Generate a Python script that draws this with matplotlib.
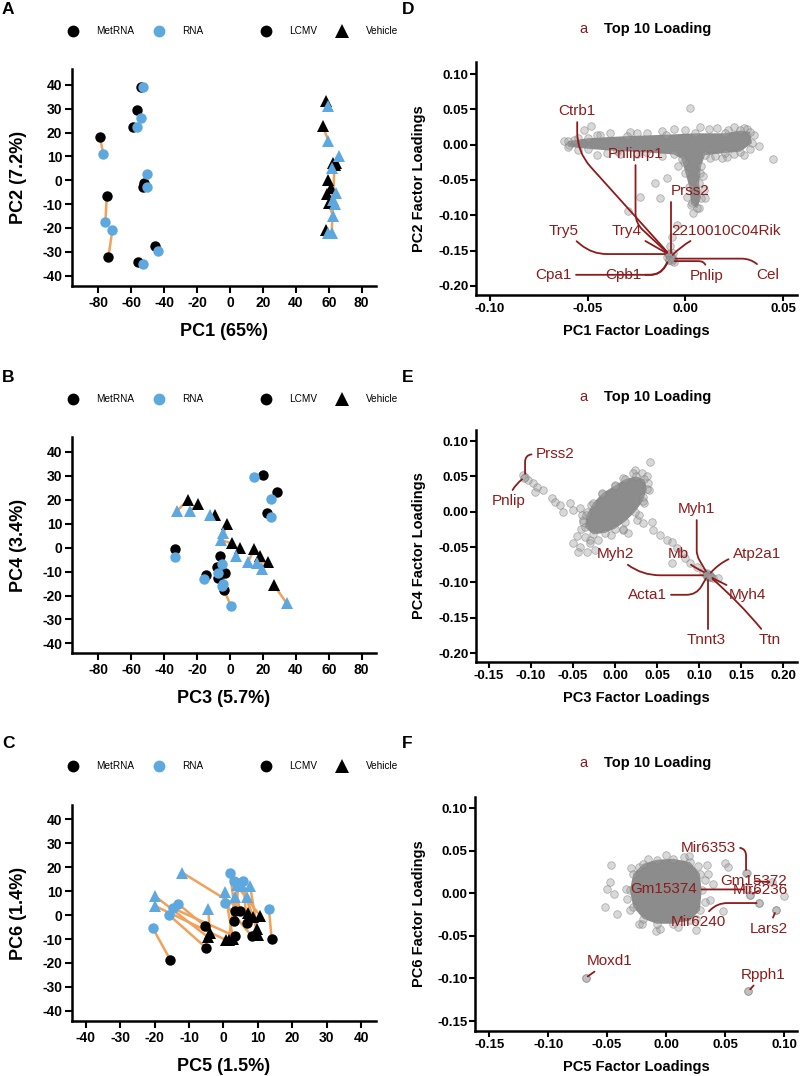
import matplotlib
matplotlib.use('Agg')
import matplotlib.pyplot as plt
from matplotlib.lines import Line2D
import numpy as np

plt.rcParams['font.family'] = ['Liberation Sans', 'DejaVu Sans']
plt.rcParams['axes.unicode_minus'] = False

BLUE = '#5DA8DE'
ORANGE = '#F0A25C'
RED = '#8E1B1B'

## PCA scores: MetRNA (black) paired with RNA (blue), LCMV = circle, Vehicle = triangle
a_lcmv_met = [(-54.3, 39.0), (-56.3, 29.5), (-59.2, 22.2), (-79.0, 18.0), (-52.2, -1.3),
              (-53.0, -2.7), (-74.9, -6.8), (-73.9, -32.3), (-45.6, -27.5), (-55.7, -34.4)]
a_lcmv_rna = [(-52.6, 39.0), (-54.3, 26.0), (-56.3, 22.2), (-77.0, 11.0), (-50.6, 2.7),
              (-50.2, -2.9), (-75.7, -17.5), (-71.5, -20.8), (-43.6, -29.6), (-53.0, -35.2)]
a_veh_met = [(58.3, 33.4), (56.3, 22.8), (64.4, 7.4), (62.8, 7.1), (59.7, 0.1),
             (61.1, -3.4), (59.1, -5.7), (60.1, -9.4), (58.3, -20.8), (63.5, 6.5)]
a_veh_rna = [(59.3, 31.1), (59.7, 16.6), (66.4, 10.2), (61.8, 5.0), (64.4, -5.4),
             (62.8, -8.2), (63.8, -9.9), (62.4, -14.9), (59.7, -22.2), (61.8, -21.9)]

b_lcmv_met = [(19.8, 30.3), (28.4, 23.1), (22.7, 14.6), (-33.4, -0.7), (-6.1, -3.7),
              (-8.1, -7.9), (-3.0, -10.7), (-14.6, -11.4), (-7.1, -12.8), (-3.6, -17.6)]
b_lcmv_rna = [(14.8, 29.6), (24.7, 20.2), (24.7, 12.7), (-33.4, -4.0), (-5.0, -6.8),
              (-7.1, -10.4), (-4.5, -15.0), (-15.8, -13.2), (-5.0, -16.0), (0.4, -24.2)]
b_veh_met = [(-25.7, 19.9), (-19.6, 18.1), (-9.1, 13.6), (-1.6, 9.8), (1.0, 1.8),
             (6.1, -0.3), (14.6, -0.7), (18.2, -3.7), (23.3, -5.8), (26.7, -15.6)]
b_veh_rna = [(-32.0, 15.4), (-24.3, 15.4), (-12.2, 13.6), (-4.0, 6.3), (-5.7, 3.2),
             (3.6, -3.5), (11.1, -5.8), (19.3, -9.0), (16.2, -6.5), (34.4, -23.2)]

c_lcmv_met = [(-15.4, -18.8), (14.0, -10.0), (-5.4, -4.6), (3.3, -8.8), (-5.1, -13.6),
              (3.3, 1.8), (4.8, 1.7), (3.1, -2.5), (6.7, -3.5), (8.2, -8.8)]
c_lcmv_rna = [(-20.6, -5.3), (13.2, 2.4), (-13.1, 4.6), (-14.6, 2.8), (-15.8, 0.0),
              (1.9, 17.7), (3.1, 14.3), (4.5, 13.5), (5.8, 14.3), (0.4, 4.9)]
c_veh_met = [(7.2, 0.7), (-4.4, -9.3), (0.7, -10.4), (-4.0, -7.5), (2.8, -10.1),
             (10.6, -0.3), (9.7, -6.0), (10.1, -8.3), (1.5, -10.5), (8.5, -1.0)]
c_veh_rna = [(-12.0, 17.7), (-19.9, 7.9), (-19.9, 3.8), (-4.4, 2.4), (0.4, 9.7),
             (3.8, 12.5), (5.5, 12.0), (7.7, 12.3), (3.3, 7.6), (6.7, 7.6)]

## Factor loadings: outline of the dense core + individual points
d_core = [(-0.060, 0.005), (-0.050, 0.009), (-0.030, 0.012), (-0.010, 0.014), (0.005, 0.016),
          (0.020, 0.016), (0.028, 0.020), (0.033, 0.018), (0.034, 0.002), (0.028, -0.010),
          (0.020, -0.012), (0.010, -0.015), (0.008, -0.030), (0.007, -0.055), (0.008, -0.075),
          (0.006, -0.090), (0.003, -0.085), (0.002, -0.060), (0.000, -0.040), (-0.002, -0.020),
          (-0.006, -0.014), (-0.020, -0.011), (-0.035, -0.009), (-0.050, -0.006), (-0.060, -0.003)]
d_points = [(-0.0519, 0.0208), (-0.0434, 0.0137), (-0.0383, 0.0170), (-0.0281, 0.0184),
            (-0.0196, 0.0160), (-0.0060, 0.0217), (0.0076, 0.0255), (0.0161, 0.0231),
            (0.0246, 0.0245), (0.0314, 0.0217), (0.0348, 0.0137), (0.0297, -0.0146),
            (0.0212, -0.0170), (0.0127, -0.0193), (-0.0009, -0.0241), (-0.0570, 0.0066),
            (-0.0595, -0.0005), (-0.0451, -0.0146), (-0.0332, -0.0132), (0.0076, -0.0406),
            (0.0093, -0.0642), (0.0034, -0.0830), (0.0068, -0.0901), (0.0008, -0.0736),
            (-0.0094, -0.0477), (-0.0043, -0.1137), (-0.0068, -0.1302), (-0.0080, -0.1443),
            (-0.0063, -0.1538), (-0.0073, -0.1609), (-0.0060, -0.1656), (-0.0094, -0.1585),
            (0.0022, 0.0514), (-0.0485, 0.0264), (-0.0621, 0.0057), (0.0445, -0.0207),
            (0.0374, -0.0019), (-0.0153, -0.0538), (-0.0230, -0.0736), (-0.0128, -0.0759),
            (-0.0294, -0.0934), (0.0187, -0.0193),
            (-0.055, 0.010), (-0.045, 0.013), (-0.025, 0.016), (-0.012, 0.019), (0.000, 0.020),
            (0.012, 0.022), (0.022, 0.021), (0.030, 0.024), (-0.055, -0.008), (-0.040, -0.012),
            (-0.025, -0.014), (-0.012, -0.016), (0.015, -0.016), (0.025, -0.014), (0.033, -0.006),
            (-0.004, -0.030), (0.009, -0.045), (0.010, -0.075), (0.004, -0.097)]
d_genes = ['Ctrb1', 'Pnliprp1', 'Prss2', 'Try5', 'Try4', '2210010C04Rik',
           'Cpa1', 'Cpb1', 'Pnlip', 'Cel']
d_gene_x = [-0.0085, -0.0082, -0.0075, -0.0090, -0.0085, -0.0075, -0.0085, -0.0085, -0.0070, -0.0065]
d_gene_y = [-0.1545, -0.1560, -0.1580, -0.1550, -0.1555, -0.1590, -0.1630, -0.1640, -0.1650, -0.1615]
d_text = [(-0.0553, 0.0476), (-0.0255, -0.0132), (0.0022, -0.0656), (-0.0621, -0.1217),
          (-0.0298, -0.1217), (0.0209, -0.1217), (-0.0673, -0.1844), (-0.0319, -0.1844),
          (0.0106, -0.1858), (0.0421, -0.1844)]
d_conn = ['angle,angleA=90,angleB=132,rad=20', 'angle,angleA=90,angleB=137,rad=10',
          'angle,angleA=0,angleB=90,rad=10', 'angle,angleA=-40,angleB=0,rad=15',
          'arc3,rad=0', 'arc3,rad=0.2', 'angle,angleA=0,angleB=60,rad=10',
          'angle,angleA=0,angleB=60,rad=10', 'angle,angleA=90,angleB=0,rad=8',
          'angle,angleA=135,angleB=0,rad=10']

e_core = [(-0.036, -0.022), (-0.034, -0.005), (-0.026, 0.012), (-0.015, 0.026), (0.000, 0.037),
          (0.012, 0.046), (0.025, 0.050), (0.035, 0.046), (0.038, 0.032), (0.033, 0.015),
          (0.024, 0.000), (0.012, -0.014), (0.000, -0.024), (-0.012, -0.030), (-0.026, -0.032)]
e_points = [(-0.1091, 0.0520), (-0.1032, 0.0449), (-0.0972, 0.0402), (-0.0932, 0.0355),
            (-0.0853, 0.0308), (-0.0754, 0.0190), (-0.0714, 0.0143), (-0.0655, 0.0096),
            (-0.0536, 0.0119), (-0.0496, 0.0025), (-0.0417, 0.0049), (-0.0397, -0.0046),
            (-0.0337, 0.0002), (-0.0377, -0.0116), (-0.0952, 0.0284), (-0.0615, 0.0002),
            (-0.0417, -0.0493), (-0.0337, -0.0564), (-0.0238, -0.0540), (-0.0437, -0.0564),
            (-0.0298, -0.0399), (-0.0357, -0.0352), (0.0417, 0.0708), (0.0238, 0.0590),
            (0.0317, 0.0543), (0.0397, 0.0402), (0.0337, 0.0213), (0.0258, -0.0116),
            (0.0337, -0.0163), (0.0437, -0.0140), (0.0456, -0.0258), (0.0536, -0.0328),
            (0.0615, -0.0399), (0.0675, -0.0423), (0.0734, -0.0517), (0.0794, -0.0588),
            (0.0833, -0.0658), (0.0893, -0.0729), (0.0972, -0.0776), (0.1052, -0.0847),
            (0.1131, -0.0894), (0.1171, -0.0941), (0.1230, -0.0941), (0.0159, -0.0305),
            (0.0099, -0.0258), (0.0675, -0.0729),
            (-0.040, -0.025), (-0.038, -0.015), (-0.028, 0.010), (-0.015, 0.025), (0.000, 0.038),
            (0.010, 0.048), (0.022, 0.055), (0.038, 0.050), (0.040, 0.030), (0.035, 0.012),
            (0.028, -0.005), (0.010, -0.025), (-0.005, -0.033), (-0.020, -0.040),
            (-0.045, -0.035), (-0.050, -0.045), (-0.030, -0.045)]
e_genes = ['Prss2', 'Pnlip', 'Myh1', 'Mb', 'Myh2', 'Atp2a1', 'Acta1', 'Myh4', 'Tnnt3', 'Ttn']
e_gene_x = [-0.1071, -0.1080, 0.1100, 0.1090, 0.1080, 0.1120, 0.1100, 0.1130, 0.1110, 0.1140]
e_gene_y = [0.0496, 0.0480, -0.0880, -0.0870, -0.0900, -0.0890, -0.0910, -0.0920, -0.0930, -0.0930]
e_text = [(-0.0714, 0.0812), (-0.1270, 0.0152), (0.0973, 0.0039), (0.0754, -0.0601),
          (0.0000, -0.0601), (0.1687, -0.0601), (0.0385, -0.1176), (0.1575, -0.1185),
          (0.1083, -0.1812), (0.1845, -0.1812)]
e_conn = ['angle,angleA=0,angleB=90,rad=8', 'arc3,rad=-0.2', 'angle,angleA=90,angleB=120,rad=5',
          'arc3,rad=0.1', 'angle,angleA=-40,angleB=0,rad=20', 'arc3,rad=0.25',
          'angle,angleA=0,angleB=60,rad=10', 'arc3,rad=0', 'angle,angleA=0,angleB=90,rad=8',
          'arc3,rad=0.05']

f_core = [(-0.0278, 0.0229), (-0.0193, 0.0346), (-0.0080, 0.0393), (0.0061, 0.0405),
          (0.0203, 0.0366), (0.0287, 0.0229), (0.0301, 0.0034), (0.0287, -0.0201),
          (0.0203, -0.0318), (0.0061, -0.0358), (-0.0080, -0.0358), (-0.0193, -0.0299),
          (-0.0278, -0.0162), (-0.0307, 0.0034)]
f_points = [(-0.0471, 0.0327), (-0.0476, 0.0131), (-0.0499, 0.0045), (-0.0439, -0.0005),
            (-0.0519, -0.0162), (-0.0414, -0.0248), (-0.0335, -0.0064), (-0.0233, 0.0308),
            (-0.0227, -0.0358), (-0.0086, -0.0444), (0.0253, -0.0436), (0.0197, 0.0437),
            (0.0344, 0.0327), (0.0500, 0.0354), (0.0528, 0.0308), (0.0358, 0.0229),
            (0.0400, 0.0112), (0.0372, -0.0084), (0.0480, -0.0209), (0.0683, 0.0237),
            (0.0711, -0.0025), (0.0791, -0.0115), (0.0932, -0.0201), (0.1000, -0.0037),
            (-0.0683, -0.0995), (0.0697, -0.1152),
            (-0.030, 0.030), (-0.015, 0.040), (0.000, 0.045), (0.015, 0.042), (0.027, 0.032),
            (0.033, 0.015), (0.033, -0.010), (0.025, -0.030), (0.010, -0.040), (-0.005, -0.042),
            (-0.020, -0.036), (-0.031, -0.020), (-0.034, 0.005)]
f_genes = ['Mir6353', 'Gm15372', 'Gm15374', 'Mir6236', 'Mir6240', 'Lars2', 'Moxd1', 'Rpph1']
f_gene_x = [0.0678, 0.0900, 0.0683, 0.0711, 0.0791, 0.0932, -0.0683, 0.0697]
f_gene_y = [0.0241, 0.0130, 0.0045, -0.0017, -0.0115, -0.0201, -0.0995, -0.1152]
f_text = [(0.0358, 0.0534), (0.0740, 0.0143), (-0.0018, 0.0045), (0.0796, 0.0034),
          (0.0273, -0.0338), (0.0867, -0.0416), (-0.0482, -0.0796), (0.0825, -0.0956)]
f_conn = ['angle,angleA=0,angleB=90,rad=8', 'arc3,rad=0', 'arc3,rad=0', 'arc3,rad=0',
          'angle,angleA=45,angleB=0,rad=10', 'arc3,rad=0', 'arc3,rad=0', 'arc3,rad=0']

W, H = 800, 1076
fig = plt.figure(figsize=(W / 100, H / 100), dpi=100)


def px_axes(l, t, r, b):
    return fig.add_axes([l / W, 1 - b / H, (r - l) / W, (b - t) / H])


def base_style(ax, tlen, tsize, pad):
    for s in ['top', 'right']:
        ax.spines[s].set_visible(False)
    for s in ['left', 'bottom']:
        ax.spines[s].set_linewidth(1.8)
    ax.tick_params(length=tlen, width=1.5, labelsize=tsize, pad=pad, colors='black')


def pca_panel(box, lm, lr, vm, vr, xlim, ylim, xticks, xlabel, ylabel, leg_y):
    ax = px_axes(*box)
    for met, rna in ((lm, lr), (vm, vr)):
        for (x1, y1), (x2, y2) in zip(met, rna):
            ax.plot([x1, x2], [y1, y2], color=ORANGE, lw=1.8, zorder=1)
    for pts, c, m, ms in ((lm, 'black', 'o', 7.5), (vm, 'black', '^', 8.5),
                          (lr, BLUE, 'o', 7.5), (vr, BLUE, '^', 8.5)):
        xs, ys = zip(*pts)
        ax.plot(xs, ys, ls='', marker=m, ms=ms, color=c, mew=0, zorder=2)
    ax.set_xlim(*xlim)
    ax.set_ylim(*ylim)
    ax.set_xticks(xticks, labels=[str(t) for t in xticks], fontweight='bold')
    yt = list(range(-40, 41, 10))
    ax.set_yticks(yt, labels=[str(t) for t in yt], fontweight='bold')
    base_style(ax, 5, 10, 2)
    ax.set_xlabel(xlabel, fontsize=13, fontweight='bold')
    ax.set_ylabel(ylabel, fontsize=13, fontweight='bold')
    l, t, r, b = box
    ax.yaxis.set_label_coords(-(l - 27) / (r - l), 0.5)
    ax.xaxis.set_label_coords(0.5, -37 / (b - t))

    h1 = [Line2D([], [], ls='', marker='o', ms=8.5, color='black', mew=0),
          Line2D([], [], ls='', marker='o', ms=8.5, color=BLUE, mew=0)]
    h2 = [Line2D([], [], ls='', marker='o', ms=8.5, color='black', mew=0),
          Line2D([], [], ls='', marker='^', ms=9.5, color='black', mew=0)]
    kw = dict(ncol=2, loc='center left', frameon=False, fontsize=7.2, handlelength=1.0,
              handletextpad=1.9, columnspacing=1.9, bbox_transform=fig.transFigure)
    leg1 = ax.legend(h1, ['MetRNA', 'RNA'], bbox_to_anchor=(58.5 / W, 1 - leg_y / H), **kw)
    ax.add_artist(leg1)
    ax.legend(h2, ['LCMV', 'Vehicle'], bbox_to_anchor=(251.5 / W, 1 - leg_y / H), **kw)
    return ax


def loading_panel(box, core, pts, genes, gx, gy, txt, conn, xlim, ylim, xticks, yticks,
                  xlabel, ylabel, title_y):
    ax = px_axes(*box)
    cx, cy = zip(*core)
    ax.fill(cx, cy, color='#8c8c8c', lw=0, zorder=1)
    px, py = zip(*(list(pts) + list(core)))
    ax.scatter(px, py, s=30, facecolor=(0.62, 0.62, 0.62, 0.4),
               edgecolor=(0.5, 0.5, 0.5, 0.55), lw=0.6, zorder=2)
    ax.scatter(gx, gy, s=30, facecolor=(0.62, 0.62, 0.62, 0.4),
               edgecolor=(0.5, 0.5, 0.5, 0.55), lw=0.6, zorder=2)
    for g, x, y, (tx, ty), cs in zip(genes, gx, gy, txt, conn):
        ax.annotate(g, xy=(x, y), xytext=(tx, ty), ha='center', va='center',
                    fontsize=11, color=RED, zorder=4,
                    arrowprops=dict(arrowstyle='-', color=RED, lw=1.3,
                                    shrinkA=1, shrinkB=2, connectionstyle=cs))
    ax.set_xlim(*xlim)
    ax.set_ylim(*ylim)
    ax.set_xticks(xticks, labels=['%.2f' % t for t in xticks], fontweight='bold')
    ax.set_yticks(yticks, labels=['%.2f' % t for t in yticks], fontweight='bold')
    base_style(ax, 4, 9.5, 1.5)
    ax.set_xlabel(xlabel, fontsize=10.5, fontweight='bold')
    ax.set_ylabel(ylabel, fontsize=10.5, fontweight='bold')
    l, t, r, b = box
    ax.yaxis.set_label_coords(-(l - 426) / (r - l), 0.5)
    ax.xaxis.set_label_coords(0.5, -29 / (b - t))
    fig.text(583 / W, 1 - title_y / H, 'a', color=RED, fontsize=10.5, ha='center', va='center')
    fig.text(604 / W, 1 - title_y / H, 'Top 10 Loading', fontsize=10.5, fontweight='bold',
             ha='left', va='center')
    return ax


pca_panel((72, 69, 376, 286), a_lcmv_met, a_lcmv_rna, a_veh_met, a_veh_rna,
          (-96, 88.7), (-44.3, 46.6), list(range(-80, 81, 20)), 'PC1 (65%)', 'PC2 (7.2%)', 31)
pca_panel((72, 437, 376, 653), b_lcmv_met, b_lcmv_rna, b_veh_met, b_veh_rna,
          (-96, 88.7), (-44.0, 46.2), list(range(-80, 81, 20)), 'PC3 (5.7%)', 'PC4 (3.4%)', 399)
pca_panel((72, 805, 376, 1021), c_lcmv_met, c_lcmv_rna, c_veh_met, c_veh_rna,
          (-44.0, 44.3), (-44.2, 45.9), list(range(-40, 41, 10)), 'PC5 (1.5%)', 'PC6 (1.4%)', 766)

yt_de = [-0.20, -0.15, -0.10, -0.05, 0.00, 0.05, 0.10]
loading_panel((476, 62, 797, 295), d_core, d_points, d_genes, d_gene_x, d_gene_y, d_text, d_conn,
              (-0.107, 0.057), (-0.213, 0.117), [-0.10, -0.05, 0.00, 0.05], yt_de,
              'PC1 Factor Loadings', 'PC2 Factor Loadings', 29)
loading_panel((476, 430, 797, 662), e_core, e_points, e_genes, e_gene_x, e_gene_y, e_text, e_conn,
              (-0.1655, 0.2167), (-0.2127, 0.1156),
              [-0.15, -0.10, -0.05, 0.00, 0.05, 0.10, 0.15, 0.20], yt_de,
              'PC3 Factor Loadings', 'PC4 Factor Loadings', 397)
loading_panel((475, 797, 797, 1031), f_core, f_points, f_genes, f_gene_x, f_gene_y, f_text, f_conn,
              (-0.162, 0.111), (-0.1617, 0.113),
              [-0.15, -0.10, -0.05, 0.00, 0.05, 0.10], [-0.15, -0.10, -0.05, 0.00, 0.05, 0.10],
              'PC5 Factor Loadings', 'PC6 Factor Loadings', 763)

for letter, x, y in [('A', 2, 10), ('B', 2, 377), ('C', 2, 744),
                     ('D', 402, 10), ('E', 402, 377), ('F', 402, 744)]:
    fig.text(x / W, 1 - y / H, letter, fontsize=12.5, fontweight='bold', ha='left', va='center')

fig.savefig('out.png', dpi=100)
